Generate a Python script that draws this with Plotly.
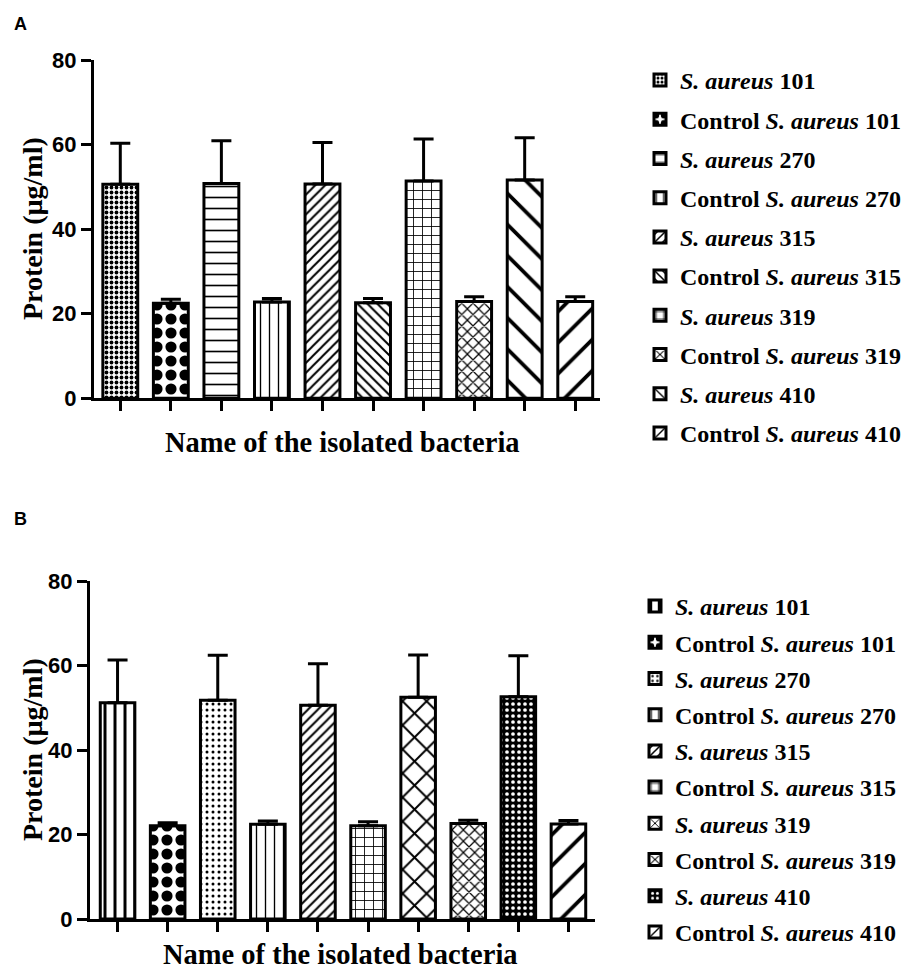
import plotly.graph_objects as go

# ---------------- data ----------------
categories = ["S. aureus 101", "Control S. aureus 101", "S. aureus 270", "Control S. aureus 270",
              "S. aureus 315", "Control S. aureus 315", "S. aureus 319", "Control S. aureus 319",
              "S. aureus 410", "Control S. aureus 410"]
legend_labels = ["<i>S. aureus</i> 101", "Control <i>S. aureus</i> 101",
                 "<i>S. aureus</i> 270", "Control <i>S. aureus</i> 270",
                 "<i>S. aureus</i> 315", "Control <i>S. aureus</i> 315",
                 "<i>S. aureus</i> 319", "Control <i>S. aureus</i> 319",
                 "<i>S. aureus</i> 410", "Control <i>S. aureus</i> 410"]

a_means = [50.6, 22.5, 50.8, 22.8, 50.7, 22.6, 51.4, 22.9, 51.6, 22.9]
a_err = [9.7, 0.9, 10.1, 0.8, 9.8, 1.0, 9.9, 1.1, 10.0, 1.1]

b_means = [51.2, 22.1, 51.8, 22.4, 50.6, 22.1, 52.5, 22.6, 52.6, 22.5]
b_err = [10.1, 0.7, 10.6, 0.8, 9.8, 0.9, 10.0, 0.8, 9.7, 0.8]

y_ticks = [0, 20, 40, 60, 80]

# ---------------- styles ----------------
OFF = 8  # default page body margin
W, H = 909 - OFF, 971 - OFF


def px_x(p):
    return (p - OFF) / W


def px_y(p):
    return 1 - (p - OFF) / H


def pat(shape, size, sol, fg="black", bg="white"):
    return dict(shape=shape, size=size, solidity=sol, fgcolor=fg, bgcolor=bg, fillmode="replace")


a_patterns = [
    pat(".", 5, 0.45),
    pat(".", 14, 0.5),
    pat("-", 11, 0.15),
    pat("|", 9, 0.15),
    pat("/", 7, 0.28),
    pat("\\", 7, 0.28),
    pat("+", 9, 0.18),
    pat("x", 8, 0.28),
    pat("\\", 22, 0.17),
    pat("/", 22, 0.17),
]
b_patterns = [
    pat("|", 10, 0.3),
    pat(".", 14, 0.5),
    pat(".", 6, 0.2),
    pat("|", 9, 0.15),
    pat("/", 7, 0.28),
    pat("+", 9, 0.18),
    pat("x", 17, 0.22),
    pat("x", 8, 0.28),
    pat(".", 6, 0.3, fg="white", bg="black"),
    pat("/", 22, 0.17),
]

SERIF = "Liberation Serif"
SANS = "Liberation Sans"

fig = go.Figure()


def add_panel(means, errs, patterns, xaxis, yaxis, legend, prefix):
    for i, cat in enumerate(categories):
        fig.add_trace(go.Bar(
            x=[cat], y=[means[i]],
            name=legend_labels[i],
            legend=legend,
            legendgroup=prefix + str(i),
            xaxis=xaxis, yaxis=yaxis,
            marker=dict(color="white", line=dict(color="black", width=3), pattern=patterns[i]),
            error_y=dict(type="data", symmetric=False, array=[errs[i]], arrayminus=[0],
                         color="black", thickness=3, width=10),
            hovertemplate=cat + ": %{y}<extra></extra>",
        ))


add_panel(a_means, a_err, a_patterns, "x", "y", "legend", "a")
add_panel(b_means, b_err, b_patterns, "x2", "y2", "legend2", "b")

xa_common = dict(type="category", categoryorder="array", categoryarray=categories,
                 showline=True, linecolor="black", linewidth=3, ticks="outside", ticklen=10,
                 tickwidth=3, tickcolor="black", showticklabels=False, showgrid=False, zeroline=False)
ya_common = dict(range=[0, 80], tickvals=y_ticks, showline=True, linecolor="black", linewidth=3,
                 ticks="outside", ticklen=10, tickwidth=3, tickcolor="black", showgrid=False,
                 zeroline=False, tickfont=dict(family=SANS, size=22, color="black", weight="bold"))

legend_common = dict(font=dict(family=SERIF, size=24, color="black", weight="bold"),
                     bgcolor="rgba(0,0,0,0)", borderwidth=0, xanchor="left", yanchor="top",
                     traceorder="grouped", itemclick=False, itemdoubleclick=False)

fig.update_layout(
    width=W, height=H,
    margin=dict(l=0, r=0, t=0, b=0, autoexpand=False),
    paper_bgcolor="white", plot_bgcolor="white",
    barmode="overlay", bargap=0.31,
    showlegend=True,
    xaxis=dict(domain=[px_x(94), px_x(600)], range=[-0.52, 9.49], anchor="y", **xa_common),
    yaxis=dict(domain=[px_y(398.3), px_y(60)], anchor="x", **ya_common),
    xaxis2=dict(domain=[px_x(90), px_x(595)], range=[-0.55, 9.53], anchor="y2", **xa_common),
    yaxis2=dict(domain=[px_y(919), px_y(581)], anchor="x2", **ya_common),
    legend=dict(x=px_x(640), y=px_y(58), tracegroupgap=5, **legend_common),
    legend2=dict(x=px_x(635), y=px_y(584), tracegroupgap=2, **legend_common),
)

ann = []
ann.append(dict(text="A", x=px_x(20), y=px_y(24), xref="paper", yref="paper", showarrow=False,
                xanchor="center", yanchor="middle",
                font=dict(family=SANS, size=18, color="black", weight="bold")))
ann.append(dict(text="B", x=px_x(20), y=px_y(519), xref="paper", yref="paper", showarrow=False,
                xanchor="center", yanchor="middle",
                font=dict(family=SANS, size=18, color="black", weight="bold")))
for cy, ty, cx in [(229, 443, 342), (750, 954, 340)]:
    ann.append(dict(text="Protein (µg/ml)", textangle=-90, x=px_x(32), y=px_y(cy), xref="paper",
                    yref="paper", showarrow=False, xanchor="center", yanchor="middle",
                    font=dict(family=SERIF, size=28, color="black", weight="bold")))
    ann.append(dict(text="Name of the isolated bacteria", x=px_x(cx), y=px_y(ty), xref="paper",
                    yref="paper", showarrow=False, xanchor="center", yanchor="middle",
                    font=dict(family=SERIF, size=28.5, color="black", weight="bold")))
fig.update_layout(annotations=ann)

fig.write_html("out.html")
